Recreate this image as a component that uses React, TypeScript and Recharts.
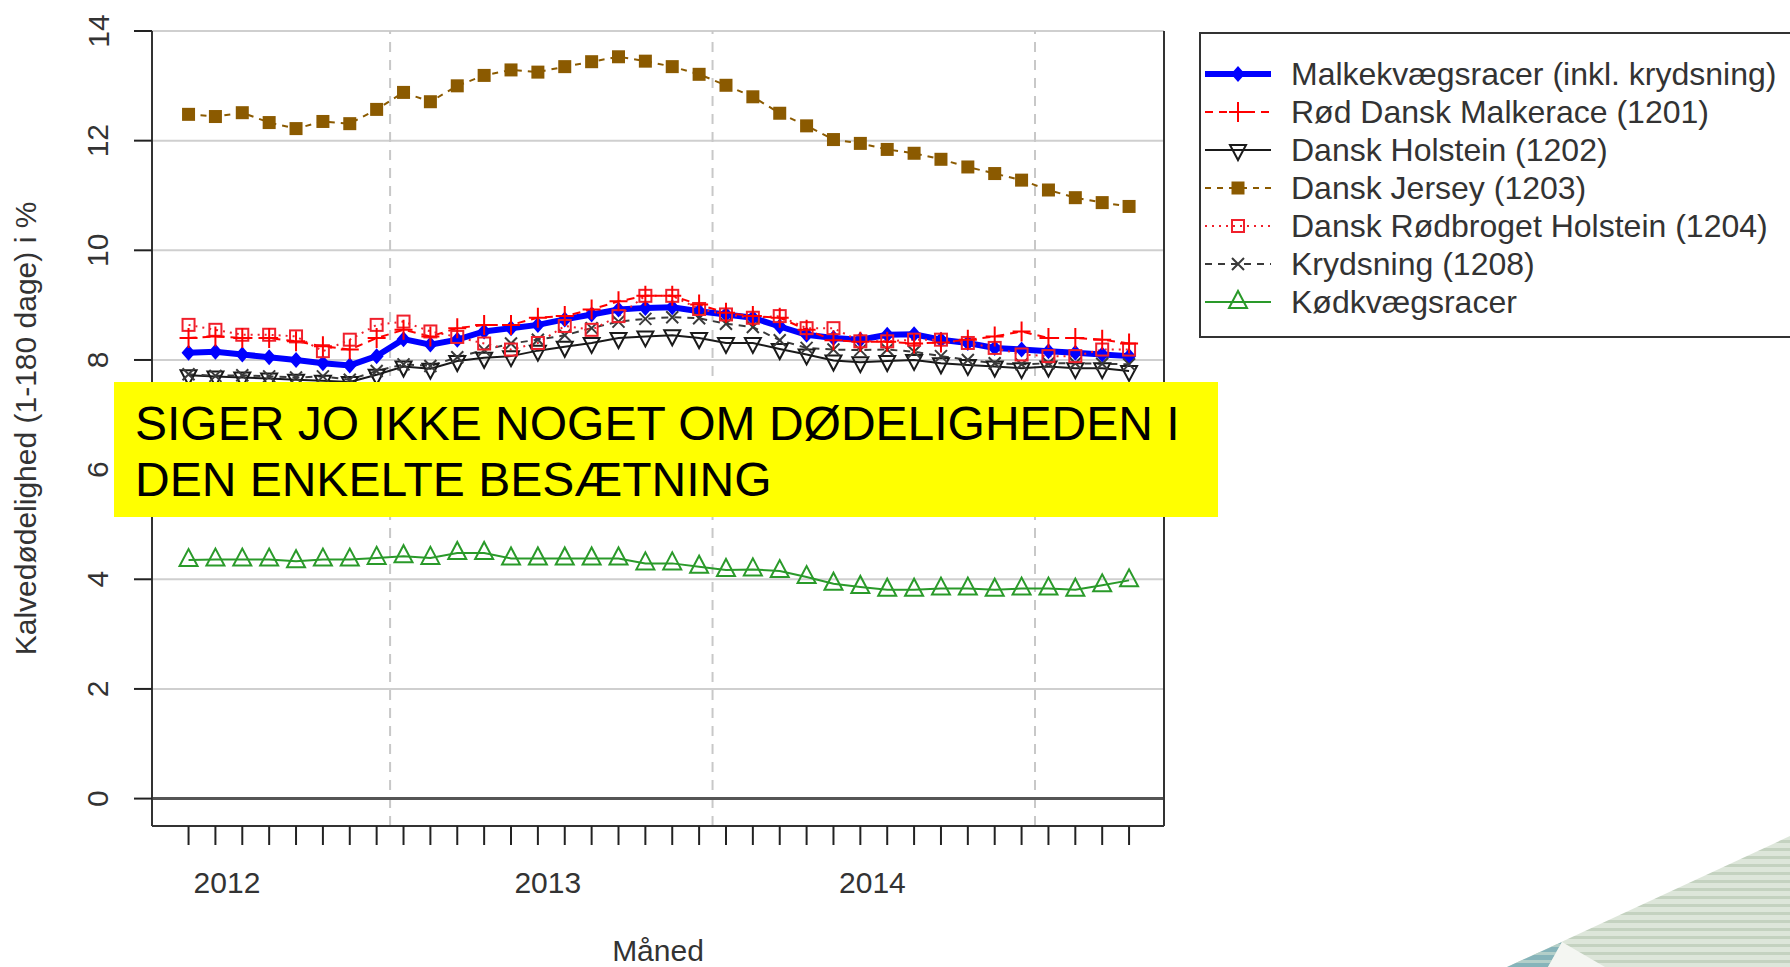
import React from "react";
import {
  CartesianGrid,
  Legend,
  Line,
  LineChart,
  ReferenceLine,
  XAxis,
  YAxis,
} from "recharts";

// month index 0..35 (rolling months)
const months = [
  0, 1, 2, 3, 4, 5, 6, 7, 8, 9, 10, 11, 12, 13, 14, 15, 16, 17, 18, 19, 20,
  21, 22, 23, 24, 25, 26, 27, 28, 29, 30, 31, 32, 33, 34, 35,
];
const yearTicks = [1.43, 13.37, 25.45];
const yearLabels = ["2012", "2013", "2014"];
const yearBreaks = [7.5, 19.5, 31.5];
const yTicks = [0, 2, 4, 6, 8, 10, 12, 14];

const malkekvaeg = [
  8.13, 8.15, 8.1, 8.05, 8.0, 7.94, 7.9, 8.07, 8.38, 8.28, 8.37, 8.52, 8.58,
  8.64, 8.74, 8.83, 8.92, 8.95, 8.96, 8.89, 8.83, 8.77, 8.61, 8.46, 8.4, 8.37,
  8.46, 8.47, 8.37, 8.31, 8.22, 8.19, 8.16, 8.13, 8.1, 8.07,
];
const roedDansk = [
  8.4, 8.43, 8.4, 8.4, 8.34, 8.25, 8.19, 8.4, 8.55, 8.43, 8.58, 8.64, 8.64,
  8.77, 8.8, 8.92, 9.07, 9.17, 9.17, 9.01, 8.86, 8.8, 8.77, 8.55, 8.36, 8.33,
  8.33, 8.3, 8.32, 8.37, 8.43, 8.52, 8.4, 8.4, 8.37, 8.3,
];
const holstein = [
  7.72, 7.7, 7.68, 7.66, 7.64, 7.62, 7.6, 7.73, 7.88, 7.84, 7.98, 8.04, 8.07,
  8.17, 8.24, 8.31, 8.4, 8.43, 8.45, 8.4, 8.31, 8.31, 8.2, 8.1, 7.99, 7.96,
  7.98, 8.0, 7.94, 7.91, 7.88, 7.85, 7.88, 7.85, 7.85, 7.8,
];
const jersey = [
  12.48, 12.44, 12.51, 12.33, 12.22, 12.35, 12.31, 12.57, 12.88, 12.71, 13.0,
  13.19, 13.29, 13.25, 13.35, 13.44, 13.53, 13.45, 13.35, 13.21, 13.01, 12.8,
  12.5, 12.27, 12.02, 11.95, 11.84, 11.77, 11.66, 11.52, 11.4, 11.28, 11.1,
  10.96, 10.87, 10.8,
];
const roedbroget = [
  8.64, 8.55, 8.46, 8.46, 8.43, 8.16, 8.37, 8.64, 8.7, 8.52, 8.42, 8.3, 8.19,
  8.31, 8.62, 8.55, 8.8, 9.17, 9.17, 8.93, 8.83, 8.77, 8.8, 8.58, 8.58, 8.34,
  8.34, 8.37, 8.37, 8.31, 8.22, 8.1, 8.07, 8.07, 8.19, 8.19,
];
const krydsning = [
  7.74, 7.71, 7.72, 7.7, 7.68, 7.7, 7.64, 7.8, 7.92, 7.89, 8.05, 8.18, 8.3,
  8.37, 8.45, 8.58, 8.7, 8.75, 8.78, 8.76, 8.66, 8.6, 8.36, 8.22, 8.19, 8.18,
  8.19, 8.15, 8.07, 8.0, 7.94, 7.92, 7.94, 7.94, 7.93, 7.92,
];
const koedkvaeg = [
  4.35, 4.36, 4.36, 4.36, 4.33, 4.36, 4.36, 4.39, 4.42, 4.39, 4.48, 4.48, 4.38,
  4.38, 4.38, 4.38, 4.38, 4.29, 4.29, 4.23, 4.17, 4.18, 4.15, 4.04, 3.92, 3.86,
  3.81, 3.81, 3.83, 3.83, 3.81, 3.83, 3.83, 3.81, 3.89, 3.98,
];

const FONT = "'Liberation Sans', Arial, sans-serif";
const INK = "#333333";
const X_DOMAIN: [number, number] = [-1.36, 36.3];
const Y_DOMAIN: [number, number] = [-0.5, 14];

type MarkerKind =
  | "diamond"
  | "plus"
  | "triDown"
  | "squareFilled"
  | "square"
  | "cross"
  | "triUp";

interface SeriesDef {
  key: string;
  name: string;
  values: number[];
  color: string;
  width: number;
  dash?: string;
  marker: MarkerKind;
}

// legend order
const SERIES: SeriesDef[] = [
  { key: "malk", name: "Malkekvægsracer (inkl. krydsning)", values: malkekvaeg, color: "#0000ff", width: 6, marker: "diamond" },
  { key: "rdm", name: "Rød Dansk Malkerace (1201)", values: roedDansk, color: "#ff0000", width: 2, dash: "8 6", marker: "plus" },
  { key: "hol", name: "Dansk Holstein (1202)", values: holstein, color: "#1a1a1a", width: 2, marker: "triDown" },
  { key: "jer", name: "Dansk Jersey (1203)", values: jersey, color: "#8b5a00", width: 2, dash: "6 6", marker: "squareFilled" },
  { key: "rdh", name: "Dansk Rødbroget Holstein (1204)", values: roedbroget, color: "#f0202c", width: 2, dash: "2 5", marker: "square" },
  { key: "kry", name: "Krydsning (1208)", values: krydsning, color: "#3a3a3a", width: 2, dash: "7 6", marker: "cross" },
  { key: "kod", name: "Kødkvægsracer", values: koedkvaeg, color: "#2a9a2a", width: 2, marker: "triUp" },
];

// drawing order (bottom to top)
const DRAW_ORDER = ["malk", "hol", "kry", "rdh", "rdm", "jer", "kod"];

const rows = months.map((m, i) => {
  const row: Record<string, number> = { x: m };
  SERIES.forEach((s) => {
    row[s.key] = s.values[i];
  });
  return row;
});

const Marker = ({ kind, cx, cy, color }: { kind: MarkerKind; cx: number; cy: number; color: string }) => {
  switch (kind) {
    case "diamond":
      return <path d={`M${cx},${cy - 8}L${cx + 7},${cy}L${cx},${cy + 8}L${cx - 7},${cy}Z`} fill={color} />;
    case "plus":
      return <path d={`M${cx - 9},${cy}H${cx + 9}M${cx},${cy - 10}V${cy + 10}`} stroke={color} strokeWidth={2} fill="none" />;
    case "triDown":
      return <path d={`M${cx - 8},${cy - 5}H${cx + 8}L${cx},${cy + 10}Z`} stroke={color} strokeWidth={2} fill="none" />;
    case "squareFilled":
      return <rect x={cx - 6.5} y={cy - 6.5} width={13} height={13} fill={color} />;
    case "square":
      return <rect x={cx - 6} y={cy - 6} width={12} height={12} stroke={color} strokeWidth={2} fill="none" />;
    case "cross":
      return <path d={`M${cx - 6},${cy - 6}L${cx + 6},${cy + 6}M${cx + 6},${cy - 6}L${cx - 6},${cy + 6}`} stroke={color} strokeWidth={2} fill="none" />;
    case "triUp":
      return <path d={`M${cx - 9},${cy + 6}H${cx + 9}L${cx},${cy - 11}Z`} stroke={color} strokeWidth={2} fill="none" />;
    default:
      return null;
  }
};

const LegendBox = () => (
  <svg width={600} height={306} style={{ display: "block" }}>
    <rect x={1} y={1} width={640} height={304} fill="#ffffff" stroke={INK} strokeWidth={2} />
    {SERIES.map((s, i) => {
      const cy = 42 + i * 38;
      return (
        <g key={s.key}>
          <line x1={6} x2={72} y1={cy} y2={cy} stroke={s.color} strokeWidth={s.width} strokeDasharray={s.dash} />
          <Marker kind={s.marker} cx={39} cy={cy} color={s.color} />
          <text x={92} y={cy} dominantBaseline="central" fontSize={32} fontFamily={FONT} fill={INK}>
            {s.name}
          </text>
        </g>
      );
    })}
  </svg>
);

const YTick = (props: any) => {
  const { x, y, payload } = props;
  const tx = x - 34;
  return (
    <text x={tx} y={y} transform={`rotate(-90, ${tx}, ${y})`} textAnchor="middle" dominantBaseline="central" fontSize={30} fontFamily={FONT} fill={INK}>
      {payload.value}
    </text>
  );
};

const YTitle = (props: any) => {
  const vb = props.viewBox ?? { x: 0, y: 31, width: 152, height: 795 };
  const tx = vb.x + 25;
  const ty = vb.y + vb.height / 2;
  return (
    <text x={tx} y={ty} transform={`rotate(-90, ${tx}, ${ty})`} textAnchor="middle" dominantBaseline="central" fontSize={30} fontFamily={FONT} fill={INK}>
      Kalvedødelighed (1-180 dage) i %
    </text>
  );
};

const XTitle = (props: any) => {
  const vb = props.viewBox ?? { x: 152, y: 846, width: 1012, height: 121 };
  return (
    <text x={vb.x + vb.width / 2} y={vb.y + vb.height - 6} textAnchor="middle" fontSize={30} fontFamily={FONT} fill={INK}>
      Måned
    </text>
  );
};

const Decoration = () => (
  <svg width={1790} height={967} style={{ position: "absolute", left: 0, top: 0, pointerEvents: "none" }}>
    <defs>
      <pattern id="stripes" width={8} height={8} patternUnits="userSpaceOnUse">
        <rect width={8} height={8} fill="#dde6da" />
        <rect width={8} height={3} fill="#c4d2c0" />
      </pattern>
      <pattern id="stripesTeal" width={8} height={8} patternUnits="userSpaceOnUse">
        <rect width={8} height={8} fill="#86b4ba" />
        <rect width={8} height={3} fill="#b3cfc9" />
      </pattern>
    </defs>
    <polygon points="1507,967 1790,836 1790,967" fill="url(#stripes)" />
    <polygon points="1507,967 1562,942 1548,967" fill="url(#stripesTeal)" />
    <polygon points="1548,967 1562,942 1605,967" fill="#f4f6f2" />
  </svg>
);

export default function App() {
  return (
    <div style={{ position: "absolute", left: 0, top: 0, width: 1790, height: 967, overflow: "hidden", background: "#ffffff", fontFamily: FONT }}>
      <LineChart width={1790} height={967} data={rows} margin={{ top: 31, right: 626, bottom: 0, left: 0 }}>
        <CartesianGrid vertical={false} stroke="#cfcfcf" strokeWidth={2} />
        <XAxis
          dataKey="x"
          type="number"
          domain={X_DOMAIN}
          allowDataOverflow
          ticks={months}
          tickFormatter={() => ""}
          height={20}
          tickSize={19}
          tickLine={{ stroke: "#222", strokeWidth: 2 }}
          axisLine={{ stroke: INK, strokeWidth: 2 }}
        />
        <XAxis
          xAxisId="year"
          dataKey="x"
          type="number"
          domain={X_DOMAIN}
          allowDataOverflow
          ticks={yearTicks}
          tickFormatter={(v: number) => yearLabels[yearTicks.indexOf(v)] ?? ""}
          height={121}
          tickLine={false}
          axisLine={false}
          tickSize={6}
          tickMargin={20}
          tick={{ fontSize: 30, fill: INK, fontFamily: FONT }}
          label={(p: any) => <XTitle {...p} />}
        />
        <YAxis
          type="number"
          domain={Y_DOMAIN}
          allowDataOverflow
          ticks={yTicks}
          width={152}
          tickSize={18}
          tickLine={{ stroke: "#222", strokeWidth: 2 }}
          axisLine={{ stroke: INK, strokeWidth: 2 }}
          tick={<YTick />}
          label={(p: any) => <YTitle {...p} />}
        />
        {yearBreaks.map((b) => (
          <ReferenceLine key={b} x={b} stroke="#c8c8c8" strokeWidth={2} strokeDasharray="10 8" />
        ))}
        <ReferenceLine y={0} stroke="#555555" strokeWidth={3} />
        <ReferenceLine x={X_DOMAIN[1]} stroke={INK} strokeWidth={2} />
        {DRAW_ORDER.map((k) => {
          const s = SERIES.find((d) => d.key === k)!;
          return (
            <Line
              key={s.key}
              dataKey={s.key}
              name={s.name}
              type="linear"
              stroke={s.color}
              strokeWidth={s.width}
              strokeDasharray={s.dash}
              isAnimationActive={false}
              activeDot={false}
              dot={(p: any) =>
                p.cx == null || p.cy == null ? (
                  <g key={`${s.key}-${p.index}`} />
                ) : (
                  <Marker key={`${s.key}-${p.index}`} kind={s.marker} cx={p.cx} cy={p.cy} color={s.color} />
                )
              }
            />
          );
        })}
        <Legend
          layout="vertical"
          align="center"
          verticalAlign="middle"
          content={() => <LegendBox />}
          wrapperStyle={{ left: 1199, top: 32, width: 600, height: 306 }}
        />
      </LineChart>
      <div
        style={{
          position: "absolute",
          left: 114,
          top: 382,
          width: 1104,
          height: 135,
          background: "#ffff00",
          boxSizing: "border-box",
          paddingLeft: 21,
          paddingTop: 14,
          fontFamily: FONT,
          fontSize: 48,
          lineHeight: "56px",
          color: "#000000",
          whiteSpace: "nowrap",
        }}
      >
        SIGER JO IKKE NOGET OM DØDELIGHEDEN I
        <br />
        DEN ENKELTE BESÆTNING
      </div>
      <Decoration />
    </div>
  );
}
